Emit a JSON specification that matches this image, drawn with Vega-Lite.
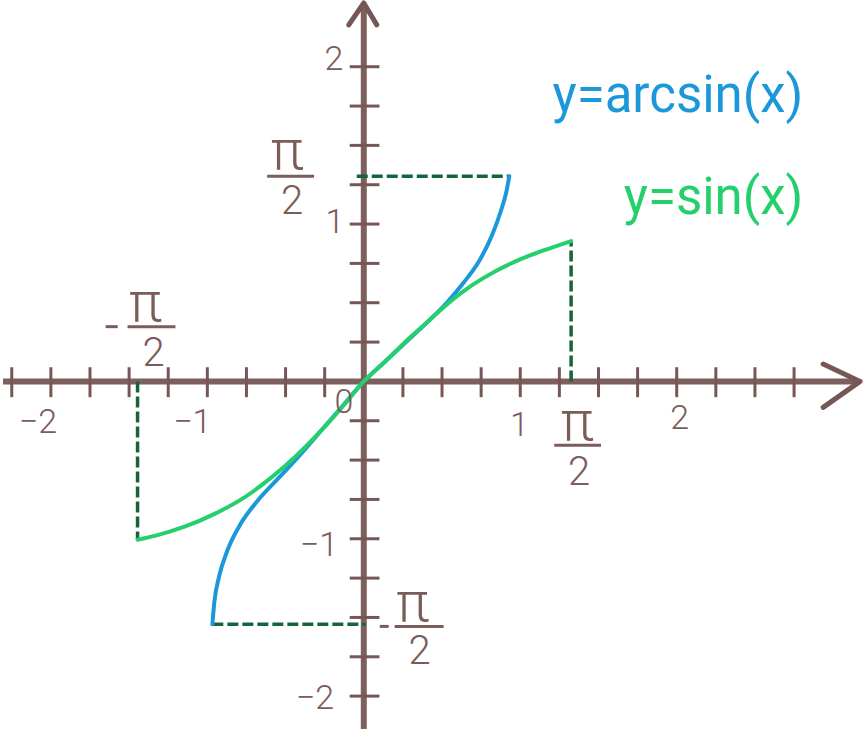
{
  "$schema": "https://vega.github.io/schema/vega-lite/v6.json",
  "width": 864,
  "height": 732,
  "autosize": {"type": "fit", "contains": "padding"},
  "padding": 0,
  "background": "white",
  "config": {"view": {"stroke": null}},
  "datasets": {
    "axes": [
      {"x": -2.306, "y": 0, "x2": 3.165, "y2": 0},
      {"x": 0, "y": -2.209, "x2": 0, "y2": 2.395}
    ],
    "arrows": [
      {"g": "x", "i": 0, "x": 2.936, "y": 0.11},
      {"g": "x", "i": 1, "x": 3.172, "y": 0},
      {"g": "x", "i": 2, "x": 2.936, "y": -0.165},
      {"g": "y", "i": 0, "x": -0.096, "y": 2.266},
      {"g": "y", "i": 1, "x": 0, "y": 2.405},
      {"g": "y", "i": 2, "x": 0.083, "y": 2.266}
    ],
    "xticks": [
      {"x": -2.25}, {"x": -2}, {"x": -1.75}, {"x": -1.5}, {"x": -1.25}, {"x": -1}, {"x": -0.75}, {"x": -0.5}, {"x": -0.25},
      {"x": 0.25}, {"x": 0.5}, {"x": 0.75}, {"x": 1}, {"x": 1.25}, {"x": 1.5}, {"x": 1.75}, {"x": 2}, {"x": 2.25}, {"x": 2.5}, {"x": 2.75}
    ],
    "yticks": [
      {"y": -2}, {"y": -1.75}, {"y": -1.5}, {"y": -1.25}, {"y": -1}, {"y": -0.75}, {"y": -0.5}, {"y": -0.25},
      {"y": 0.25}, {"y": 0.5}, {"y": 0.75}, {"y": 1}, {"y": 1.25}, {"y": 1.5}, {"y": 1.75}, {"y": 2}
    ],
    "dashes": [
      {"x": -0.045, "y": 1.304, "x2": 0.93, "y2": 1.304},
      {"x": 1.325, "y": 0, "x2": 1.325, "y2": 0.892},
      {"x": -1.446, "y": 0, "x2": -1.446, "y2": -1.006},
      {"x": -0.968, "y": -1.544, "x2": 0.01, "y2": -1.544}
    ],
    "curves": [
      {"f": "arcsin", "i": 0, "x": -0.968, "y": -1.544},
      {"f": "arcsin", "i": 1, "x": -0.955, "y": -1.40},
      {"f": "arcsin", "i": 2, "x": -0.925, "y": -1.24},
      {"f": "arcsin", "i": 3, "x": -0.87, "y": -1.07},
      {"f": "arcsin", "i": 4, "x": -0.79, "y": -0.91},
      {"f": "arcsin", "i": 5, "x": -0.68, "y": -0.76},
      {"f": "arcsin", "i": 6, "x": -0.55, "y": -0.62},
      {"f": "arcsin", "i": 7, "x": -0.41, "y": -0.47},
      {"f": "arcsin", "i": 8, "x": -0.27, "y": -0.31},
      {"f": "arcsin", "i": 9, "x": -0.13, "y": -0.15},
      {"f": "arcsin", "i": 10, "x": 0, "y": 0},
      {"f": "arcsin", "i": 11, "x": 0.13, "y": 0.12},
      {"f": "arcsin", "i": 12, "x": 0.27, "y": 0.25},
      {"f": "arcsin", "i": 13, "x": 0.41, "y": 0.38},
      {"f": "arcsin", "i": 14, "x": 0.53, "y": 0.5},
      {"f": "arcsin", "i": 15, "x": 0.64, "y": 0.63},
      {"f": "arcsin", "i": 16, "x": 0.74, "y": 0.77},
      {"f": "arcsin", "i": 17, "x": 0.82, "y": 0.93},
      {"f": "arcsin", "i": 18, "x": 0.875, "y": 1.08},
      {"f": "arcsin", "i": 19, "x": 0.91, "y": 1.2},
      {"f": "arcsin", "i": 20, "x": 0.93, "y": 1.304},
      {"f": "sin", "i": 0, "x": -1.446, "y": -1.006},
      {"f": "sin", "i": 1, "x": -1.33, "y": -0.98},
      {"f": "sin", "i": 2, "x": -1.15, "y": -0.925},
      {"f": "sin", "i": 3, "x": -0.95, "y": -0.84},
      {"f": "sin", "i": 4, "x": -0.76, "y": -0.735},
      {"f": "sin", "i": 5, "x": -0.59, "y": -0.61},
      {"f": "sin", "i": 6, "x": -0.44, "y": -0.48},
      {"f": "sin", "i": 7, "x": -0.29, "y": -0.33},
      {"f": "sin", "i": 8, "x": -0.14, "y": -0.165},
      {"f": "sin", "i": 9, "x": 0, "y": 0},
      {"f": "sin", "i": 10, "x": 0.14, "y": 0.13},
      {"f": "sin", "i": 11, "x": 0.28, "y": 0.265},
      {"f": "sin", "i": 12, "x": 0.42, "y": 0.39},
      {"f": "sin", "i": 13, "x": 0.55, "y": 0.505},
      {"f": "sin", "i": 14, "x": 0.69, "y": 0.61},
      {"f": "sin", "i": 15, "x": 0.85, "y": 0.705},
      {"f": "sin", "i": 16, "x": 1.01, "y": 0.78},
      {"f": "sin", "i": 17, "x": 1.18, "y": 0.843},
      {"f": "sin", "i": 18, "x": 1.325, "y": 0.892}
    ],
    "nums": [
      {"t": "−2", "x": -2.083, "y": -0.266},
      {"t": "−1", "x": -1.096, "y": -0.266},
      {"t": "0", "x": -0.127, "y": -0.139},
      {"t": "1", "x": 0.994, "y": -0.285},
      {"t": "2", "x": 2.019, "y": -0.24},
      {"t": "2", "x": -0.191, "y": 2.044},
      {"t": "1", "x": -0.185, "y": 1.006},
      {"t": "−1", "x": -0.287, "y": -1.044},
      {"t": "−2", "x": -0.312, "y": -2.019}
    ],
    "pis": [
      {"x": -0.49, "y": 1.35},
      {"x": 1.363, "y": -0.37},
      {"x": -1.395, "y": 0.385},
      {"x": 0.312, "y": -1.525}
    ],
    "twos": [
      {"x": -0.459, "y": 1.063},
      {"x": 1.376, "y": -0.658},
      {"x": -1.344, "y": 0.101},
      {"x": 0.357, "y": -1.797}
    ],
    "bars": [
      {"x": -0.618, "x2": -0.318, "y": 1.304},
      {"x": 1.217, "x2": 1.516, "y": -0.405},
      {"x": -1.51, "x2": -1.204, "y": 0.348},
      {"x": 0.197, "x2": 0.51, "y": -1.557},
      {"x": -1.65, "x2": -1.573, "y": 0.348},
      {"x": 0.102, "x2": 0.159, "y": -1.557}
    ],
    "legend": [
      {"t": "y=arcsin(x)", "f": "arcsin", "x": 2.809, "y": 1.715},
      {"t": "y=sin(x)", "f": "sin", "x": 2.809, "y": 1.063}
    ]
  },
  "layer": [
    {
      "data": {"name": "axes"},
      "mark": {"type": "rule", "color": "#765755", "strokeWidth": 6, "opacity": 0.95},
      "encoding": {
        "x": {"field": "x", "type": "quantitative", "scale": {"domain": [-2.306, 3.197], "nice": false, "zero": false}, "axis": null},
        "y": {"field": "y", "type": "quantitative", "scale": {"domain": [-2.209, 2.424], "nice": false, "zero": false}, "axis": null},
        "x2": {"field": "x2"},
        "y2": {"field": "y2"}
      }
    },
    {
      "data": {"name": "xticks"},
      "mark": {"type": "rule", "color": "#765755", "strokeWidth": 3},
      "encoding": {
        "x": {"field": "x", "type": "quantitative", "scale": {"domain": [-2.306, 3.197], "nice": false, "zero": false}, "axis": null},
        "y": {"datum": -0.1, "type": "quantitative", "scale": {"domain": [-2.209, 2.424], "nice": false, "zero": false}, "axis": null},
        "y2": {"datum": 0.09}
      }
    },
    {
      "data": {"name": "yticks"},
      "mark": {"type": "rule", "color": "#765755", "strokeWidth": 3},
      "encoding": {
        "y": {"field": "y", "type": "quantitative", "scale": {"domain": [-2.209, 2.424], "nice": false, "zero": false}, "axis": null},
        "x": {"datum": -0.09, "type": "quantitative", "scale": {"domain": [-2.306, 3.197], "nice": false, "zero": false}, "axis": null},
        "x2": {"datum": 0.1}
      }
    },
    {
      "data": {"name": "arrows"},
      "mark": {"type": "line", "color": "#765755", "strokeWidth": 5, "strokeCap": "round", "strokeJoin": "round"},
      "encoding": {
        "x": {"field": "x", "type": "quantitative", "scale": {"domain": [-2.306, 3.197], "nice": false, "zero": false}, "axis": null},
        "y": {"field": "y", "type": "quantitative", "scale": {"domain": [-2.209, 2.424], "nice": false, "zero": false}, "axis": null},
        "detail": {"field": "g"},
        "order": {"field": "i", "type": "quantitative"}
      }
    },
    {
      "data": {"name": "dashes"},
      "mark": {"type": "rule", "color": "#14663a", "strokeWidth": 3.5, "strokeDash": [11, 4]},
      "encoding": {
        "x": {"field": "x", "type": "quantitative", "scale": {"domain": [-2.306, 3.197], "nice": false, "zero": false}, "axis": null},
        "y": {"field": "y", "type": "quantitative", "scale": {"domain": [-2.209, 2.424], "nice": false, "zero": false}, "axis": null},
        "x2": {"field": "x2"},
        "y2": {"field": "y2"}
      }
    },
    {
      "data": {"name": "curves"},
      "mark": {"type": "line", "strokeWidth": 4, "interpolate": "monotone", "strokeCap": "round"},
      "encoding": {
        "x": {"field": "x", "type": "quantitative", "scale": {"domain": [-2.306, 3.197], "nice": false, "zero": false}, "axis": null},
        "y": {"field": "y", "type": "quantitative", "scale": {"domain": [-2.209, 2.424], "nice": false, "zero": false}, "axis": null},
        "color": {"field": "f", "type": "nominal", "scale": {"domain": ["arcsin", "sin"], "range": ["#1c98da", "#25d06c"]}, "legend": null},
        "order": {"field": "i", "type": "quantitative"}
      }
    },
    {
      "data": {"name": "bars"},
      "mark": {"type": "rule", "color": "#7a5c5a", "strokeWidth": 3},
      "encoding": {
        "x": {"field": "x", "type": "quantitative", "scale": {"domain": [-2.306, 3.197], "nice": false, "zero": false}, "axis": null},
        "y": {"field": "y", "type": "quantitative", "scale": {"domain": [-2.209, 2.424], "nice": false, "zero": false}, "axis": null},
        "x2": {"field": "x2"}
      }
    },
    {
      "data": {"name": "nums"},
      "mark": {"type": "text", "color": "#7a5c5a", "font": "Roboto", "fontWeight": 300, "fontSize": 34, "align": "center", "baseline": "middle"},
      "encoding": {
        "x": {"field": "x", "type": "quantitative", "scale": {"domain": [-2.306, 3.197], "nice": false, "zero": false}, "axis": null},
        "y": {"field": "y", "type": "quantitative", "scale": {"domain": [-2.209, 2.424], "nice": false, "zero": false}, "axis": null},
        "text": {"field": "t"}
      }
    },
    {
      "data": {"name": "pis"},
      "mark": {"type": "text", "text": "π", "color": "#7a5c5a", "font": "Roboto", "fontWeight": 300, "fontSize": 56, "align": "center", "baseline": "alphabetic"},
      "encoding": {
        "x": {"field": "x", "type": "quantitative", "scale": {"domain": [-2.306, 3.197], "nice": false, "zero": false}, "axis": null},
        "y": {"field": "y", "type": "quantitative", "scale": {"domain": [-2.209, 2.424], "nice": false, "zero": false}, "axis": null}
      }
    },
    {
      "data": {"name": "twos"},
      "mark": {"type": "text", "text": "2", "color": "#7a5c5a", "font": "Roboto", "fontWeight": 300, "fontSize": 40, "align": "center", "baseline": "alphabetic"},
      "encoding": {
        "x": {"field": "x", "type": "quantitative", "scale": {"domain": [-2.306, 3.197], "nice": false, "zero": false}, "axis": null},
        "y": {"field": "y", "type": "quantitative", "scale": {"domain": [-2.209, 2.424], "nice": false, "zero": false}, "axis": null}
      }
    },
    {
      "data": {"name": "legend"},
      "mark": {"type": "text", "font": "Roboto", "fontWeight": 400, "fontSize": 51, "align": "right", "baseline": "alphabetic"},
      "encoding": {
        "x": {"field": "x", "type": "quantitative", "scale": {"domain": [-2.306, 3.197], "nice": false, "zero": false}, "axis": null},
        "y": {"field": "y", "type": "quantitative", "scale": {"domain": [-2.209, 2.424], "nice": false, "zero": false}, "axis": null},
        "text": {"field": "t"},
        "color": {"field": "f", "type": "nominal", "scale": {"domain": ["arcsin", "sin"], "range": ["#1c98da", "#25d06c"]}, "legend": null}
      }
    }
  ]
}
